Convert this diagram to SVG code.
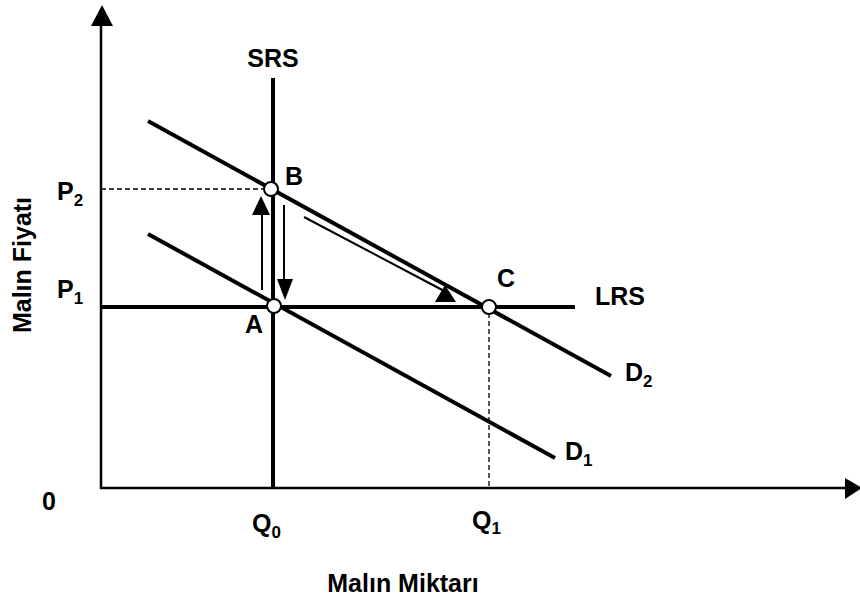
<svg xmlns="http://www.w3.org/2000/svg" width="860" height="600" viewBox="0 0 860 600">
<style>
.t{font-family:"Liberation Sans",Arial,sans-serif;font-size:25px;font-weight:bold;fill:#000}
.s{font-size:17px}
.ax{stroke:#000;stroke-width:2.5;fill:none}
.th{stroke:#000;stroke-width:4;fill:none}
.da{stroke:#000;stroke-width:1.3;stroke-dasharray:5,3;fill:none}
.ar{stroke:#000;stroke-width:2;fill:none}
.pt{fill:#fff;stroke:#000;stroke-width:2}
</style>
<rect width="860" height="600" fill="#fff"/>
<g id="axes">
<line class="ax" x1="101" y1="20" x2="101" y2="489"/>
<polygon points="102,5 91,26 113,26"/>
<line class="ax" x1="100" y1="488" x2="848" y2="488"/>
<polygon points="862,488 845,478 845,499"/>
</g>
<g id="connectors">
<line class="th" x1="273" y1="78" x2="273" y2="488"/>
<line class="th" x1="101" y1="307" x2="575" y2="307"/>
<line class="th" x1="148" y1="121" x2="611" y2="376"/>
<line class="th" x1="148" y1="234" x2="555" y2="458"/>
<line class="da" x1="101" y1="189" x2="265" y2="189"/>
<line class="da" x1="489" y1="313" x2="489" y2="488"/>
<line class="ar" x1="262" y1="290" x2="262" y2="210"/>
<polygon points="261,196 252,215 270,215"/>
<line class="ar" x1="284" y1="205" x2="284" y2="282"/>
<polygon points="285,300 277,279 293,279"/>
<line class="ar" x1="304" y1="217" x2="448" y2="293"/>
<polygon points="445,285 435,302 456,302"/>
</g>
<g id="B"><circle class="pt" cx="271" cy="189" r="7"/><text class="t" x="285" y="185">B</text></g>
<g id="A"><circle class="pt" cx="274" cy="306" r="7"/><text class="t" x="245" y="333">A</text></g>
<g id="C"><circle class="pt" cx="489" cy="307" r="7"/><text class="t" x="497" y="287">C</text></g>
<g id="SRS"><text class="t" x="273" y="67" text-anchor="middle">SRS</text></g>
<g id="LRS"><text class="t" x="595" y="305">LRS</text></g>
<g id="D2"><text class="t" x="625" y="381">D<tspan class="s" dy="6">2</tspan></text></g>
<g id="D1"><text class="t" x="565" y="460">D<tspan class="s" dy="6">1</tspan></text></g>
<g id="P2"><text class="t" x="57" y="200">P<tspan class="s" dy="6">2</tspan></text></g>
<g id="P1"><text class="t" x="57" y="298">P<tspan class="s" dy="6">1</tspan></text></g>
<g id="O"><text class="t" x="42" y="510">0</text></g>
<g id="Q0"><text class="t" x="252" y="532">Q<tspan class="s" dy="6">0</tspan></text></g>
<g id="Q1"><text class="t" x="472" y="529">Q<tspan class="s" dy="5">1</tspan></text></g>
<g id="xlabel"><text class="t" x="403" y="592" text-anchor="middle">Malın Miktarı</text></g>
<g id="ylabel"><text class="t" transform="translate(31,265) rotate(-90)" text-anchor="middle">Malın Fiyatı</text></g>
</svg>
